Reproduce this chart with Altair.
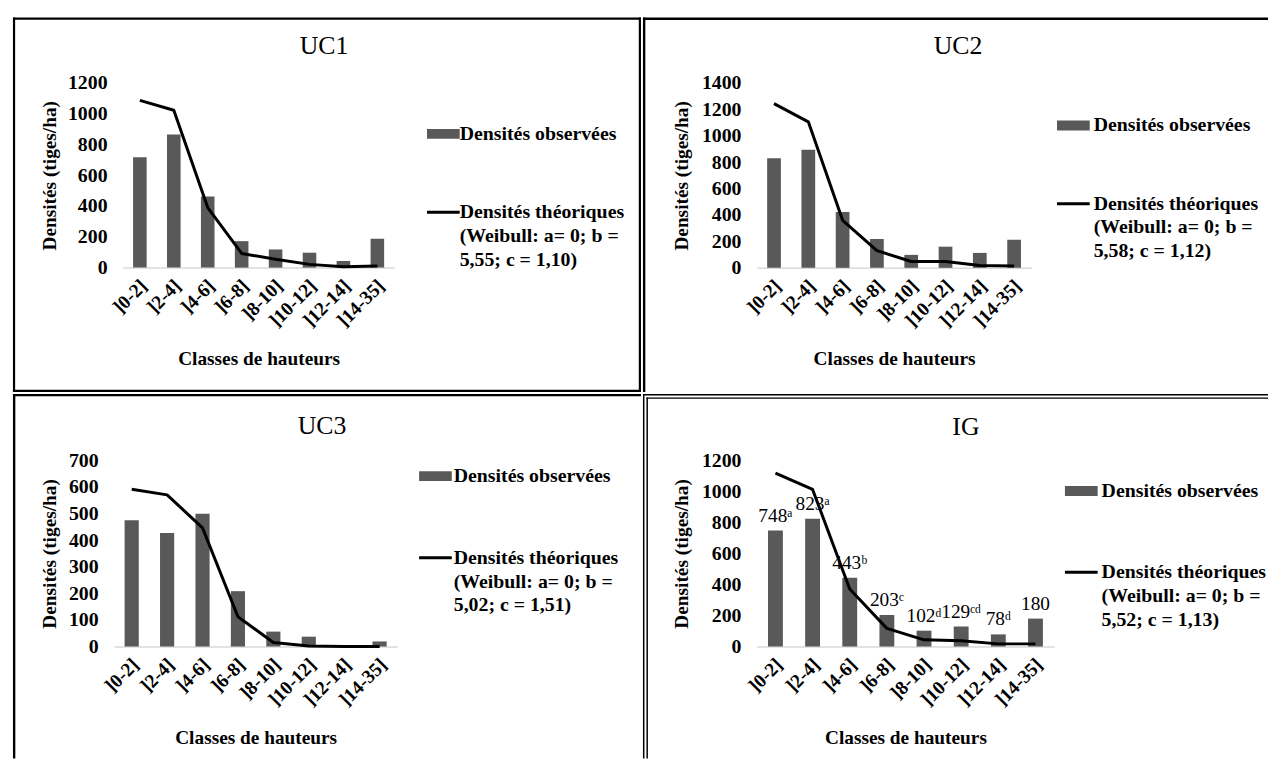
import altair as alt
import pandas as pd

cats = ["]0-2]", "]2-4]", "]4-6]", "]6-8]", "]8-10]", "]10-12]", "]12-14]", "]14-35]"]

uc1_obs = [717, 865, 462, 172, 118, 97, 43, 187]
uc1_theo = [1086, 1022, 390, 92, 54, 21, 5, 11]
uc2_obs = [830, 893, 423, 218, 98, 160, 113, 213]
uc2_theo = [1243, 1105, 360, 130, 48, 48, 18, 13]
uc3_obs = [475, 427, 499, 208, 56, 37, 0, 19]
uc3_theo = [591, 570, 446, 112, 15, 2, 0, 0]
ig_obs = [748, 823, 443, 203, 102, 129, 78, 180]
ig_theo = [1117, 1012, 370, 117, 43, 37, 17, 17]
ig_labels = ["748ᵃ", "823ᵃ", "443ᵇ", "203ᶜ", "102ᵈ", "129ᶜᵈ", "78ᵈ", "180"]

leg_obs = "Densités observées"
leg_theo = ["Densités théoriques", "(Weibull: a= 0; b ="]
weib = {"UC1": "5,55; c = 1,10)", "UC2": "5,58; c = 1,12)",
        "UC3": "5,02; c = 1,51)", "IG": "5,52; c = 1,13)"}

FONT = "Liberation Serif"
BAR = "#595959"

# panel geometry: box size, plot offset inside box, plot size, decorations
geo = {
    "UC1": dict(bw=634, bh=378, pl=111, pt=66, w=274, h=186.5, tx=203, ty=-37, ytx=-74,
                sqx=307, sqy=51.5, lgx=340, lny=130.5, kind="tl"),
    "UC2": dict(bw=631, bh=378, pl=115, pt=66, w=277, h=186.7, tx=203, ty=-37, ytx=-76,
                sqx=303, sqy=43, lgx=340, lny=122, kind="tr"),
    "UC3": dict(bw=634, bh=368, pl=102, pt=67, w=286, h=188, tx=210, ty=-35, ytx=-65,
                sqx=308, sqy=16, lgx=343, lny=98.5, kind="bl"),
    "IG": dict(bw=631, bh=368, pl=115, pt=67, w=300, h=188, tx=211, ty=-34, ytx=-76,
               sqx=311, sqy=31, lgx=348, lny=113, kind="br"),
}


def strip(one, x1, x2, y1, y2):
    return alt.Chart(one).mark_rect(color="black", strokeWidth=0).encode(
        x=alt.value(x1), x2=alt.value(x2), y=alt.value(y1), y2=alt.value(y2))


def panel(name, obs, theo, ymax, ystep, labels=None):
    g = geo[name]
    w, h = g["w"], g["h"]
    L, T = -g["pl"], -g["pt"]
    R, B = g["bw"] - g["pl"], g["bh"] - g["pt"]
    bars_df = pd.DataFrame({"cat": cats, "v": obs})
    line_df = pd.DataFrame({"cat": cats, "v": theo})
    one = pd.DataFrame({"k": [0]})

    xenc = alt.X(
        "cat:N", sort=cats,
        scale=alt.Scale(paddingInner=0.6, paddingOuter=0.3),
        axis=alt.Axis(
            title="Classes de hauteurs", labelAngle=-45, labelAlign="right",
            labelBaseline="middle", labelPadding=15, labelOffset=4, ticks=False, tickSize=0,
            domainColor="#d9d9d9", domainWidth=1.5,
            labelFont=FONT, labelFontSize=19.5, labelFontWeight="bold", labelColor="black",
            titleFont=FONT, titleFontSize=19.5, titleFontWeight="bold", titleColor="black",
            titleX=w / 2, titleY=92, titleAlign="center", titleBaseline="middle",
        ),
    )
    yaxis = alt.Axis(
        values=list(range(0, ymax + 1, ystep)), format="d", title="Densités (tiges/ha)",
        grid=False, domain=False, ticks=False, tickSize=0, labelPadding=16,
        labelFont=FONT, labelFontSize=20, labelFontWeight="bold", labelColor="black",
        titleFont=FONT, titleFontSize=19.5, titleFontWeight="bold", titleColor="black",
        titleAngle=-90, titleX=g["ytx"], titleY=h / 2, titleAlign="center",
        titleBaseline="middle",
    )
    yscale = alt.Scale(domain=[0, ymax], nice=False)

    layers = []
    # invisible frame that sets the panel size
    layers.append(alt.Chart(one).mark_rect(opacity=0).encode(
        x=alt.value(L), x2=alt.value(R), y=alt.value(T), y2=alt.value(B)))
    # frame borders
    k = g["kind"]
    if k == "tl":
        layers += [strip(one, L, R, T, T + 2.2), strip(one, L, L + 2.2, T, B),
                   strip(one, R - 2.2, R, T, B), strip(one, L, R, B - 2.2, B)]
    elif k in ("tr", "bl"):
        layers += [strip(one, L, R, T, T + 2.4), strip(one, L, L + 2.4, T, B)]
    else:
        for off in (0.0, 3.5):
            layers += [strip(one, L + off, R, T + off, T + off + 1.5),
                       strip(one, L + off, L + off + 1.5, T + off, B)]

    layers.append(alt.Chart(bars_df).mark_bar(color=BAR).encode(
        x=xenc, y=alt.Y("v:Q", scale=yscale, axis=yaxis)))
    layers.append(alt.Chart(line_df).mark_line(color="black", strokeWidth=3,
                                               strokeJoin="round").encode(
        x=xenc, y=alt.Y("v:Q", scale=yscale, axis=yaxis)))
    if labels is not None:
        lab_df = pd.DataFrame({"cat": cats, "v": obs, "lab": labels})
        layers.append(alt.Chart(lab_df).mark_text(
            font=FONT, fontSize=19.5, color="black", baseline="alphabetic", dy=-9).encode(
            x=xenc, y=alt.Y("v:Q", scale=yscale, axis=yaxis), text="lab:N"))

    # title
    layers.append(alt.Chart(one).mark_text(
        text=name, font=FONT, fontSize=26, color="black", align="center",
        baseline="middle").encode(x=alt.value(g["tx"]), y=alt.value(g["ty"])))
    # legend
    layers.append(alt.Chart(one).mark_rect(color=BAR).encode(
        x=alt.value(g["sqx"]), x2=alt.value(g["sqx"] + 33),
        y=alt.value(g["sqy"] - 5), y2=alt.value(g["sqy"] + 5)))
    layers.append(alt.Chart(one).mark_text(
        text=leg_obs, font=FONT, fontSize=20, fontWeight="bold", color="black",
        align="left", baseline="middle").encode(
        x=alt.value(g["lgx"]), y=alt.value(g["sqy"])))
    layers.append(alt.Chart(one).mark_rule(color="black", strokeWidth=3).encode(
        x=alt.value(g["sqx"]), x2=alt.value(g["sqx"] + 33), y=alt.value(g["lny"])))
    lines = leg_theo + [weib[name]]
    for i, t in enumerate(lines):
        layers.append(alt.Chart(one).mark_text(
            text=t, font=FONT, fontSize=20, fontWeight="bold", color="black",
            align="left", baseline="middle").encode(
            x=alt.value(g["lgx"]), y=alt.value(g["lny"] + 24 * i)))

    return alt.layer(*layers).properties(width=w, height=h)


def spacer():
    one = pd.DataFrame({"k": [0]})
    return alt.Chart(one).mark_rect(opacity=0).encode(
        x=alt.value(0), x2=alt.value(1), y=alt.value(0), y2=alt.value(1)
    ).properties(width=1, height=1)


p1 = panel("UC1", uc1_obs, uc1_theo, 1200, 200)
p2 = panel("UC2", uc2_obs, uc2_theo, 1400, 200)
p3 = panel("UC3", uc3_obs, uc3_theo, 700, 100)
p4 = panel("IG", ig_obs, ig_theo, 1200, 200, labels=ig_labels)

chart = alt.vconcat(
    alt.hconcat(spacer(), p1, p2, spacing=0),
    alt.hconcat(spacer(), p3, p4, spacing=0),
    spacing=0,
).properties(
    padding={"left": 1, "top": 5, "right": 0, "bottom": 0},
    background="white",
).configure_view(stroke="transparent")

chart.save("out.html", embed_options={"renderer": "svg", "actions": False})
